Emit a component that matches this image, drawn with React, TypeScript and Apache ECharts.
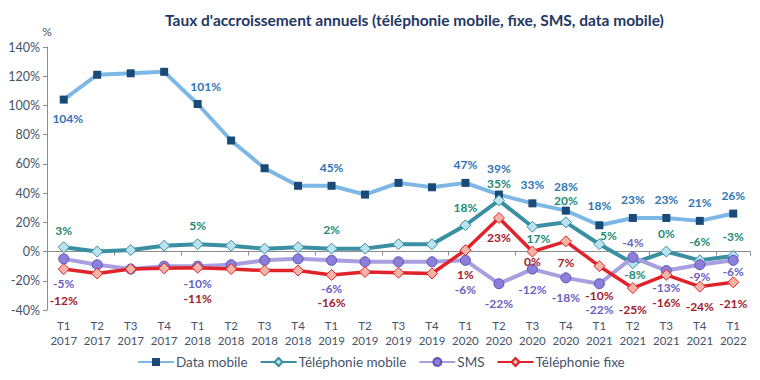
import React, { useEffect, useRef } from "react";
import * as echarts from "echarts";

const categories = [
  "T1\n2017", "T2\n2017", "T3\n2017", "T4\n2017",
  "T1\n2018", "T2\n2018", "T3\n2018", "T4\n2018",
  "T1\n2019", "T2\n2019", "T3\n2019", "T4\n2019",
  "T1\n2020", "T2\n2020", "T3\n2020", "T4\n2020",
  "T1\n2021", "T2\n2021", "T3\n2021", "T4\n2021",
  "T1\n2022",
];

const dataMobile = [104, 121, 122, 123, 101, 76, 57, 45, 45, 39, 47, 44, 47, 39, 33, 28, 18, 23, 23, 21, 26];
const telMobile = [3, 0, 1, 4, 5, 4, 2, 3, 2, 2, 5, 5, 18, 35, 17, 20, 5, -8, 0, -6, -3];
const sms = [-5, -9, -12, -10, -10, -9, -6, -5, -6, -7, -7, -7, -6, -22, -12, -18, -22, -4, -13, -9, -6];
const telFixe = [-12, -15, -12, -11.5, -11, -12, -13, -13, -16, -14, -14.5, -15, 1, 23, 0, 7, -10, -25, -16, -24, -21];

// label placement (index -> [dx, dy] relative to the point)
const dataMobileLabels: Record<number, [number, number]> = {
  0: [4, 19], 4: [8, -17], 8: [0, -18], 12: [0, -18], 13: [0, -26], 14: [0, -19],
  15: [0, -24], 16: [0, -20], 17: [0, -18], 18: [0, -18], 19: [0, -18], 20: [0, -18],
};
const telMobileLabels: Record<number, [number, number]> = {
  0: [0, -17], 4: [0, -19], 8: [0, -19], 12: [0, -18], 13: [0, -17], 14: [6, 12],
  15: [0, -22], 16: [9, -9], 17: [2, 11], 18: [0, -18], 19: [0, -19], 20: [0, -19],
};
const smsLabels: Record<number, [number, number]> = {
  0: [0, 25], 4: [0, 17], 8: [0, 28], 12: [0, 29], 13: [0, 20], 14: [0, 20],
  15: [0, 20], 16: [0, 26], 17: [0, -15], 18: [0, 17], 19: [0, 12], 20: [0, 11],
};
const telFixeLabels: Record<number, [number, number]> = {
  0: [0, 31], 4: [0, 31], 8: [0, 28], 12: [0, 24], 13: [0, 20], 14: [0, 10],
  15: [0, 21], 16: [0, 29], 17: [0, 21], 18: [0, 28], 19: [0, 20], 20: [0, 21],
};

const FONT = "Lato, 'Open Sans', sans-serif";
const AXIS_TEXT = "#44546A";

function buildData(values: number[], labels: Record<number, [number, number]>, color: string) {
  return values.map((v, i) => {
    const off = labels[i];
    if (!off) return { value: v, label: { show: false } };
    return {
      value: v,
      label: {
        show: true,
        position: "inside",
        offset: off,
        formatter: () => `${Math.round(v)}%`,
        color,
        fontWeight: "bold",
        fontSize: 12,
        lineHeight: 12,
        fontFamily: FONT,
      },
    };
  });
}

export default function App() {
  const ref = useRef<HTMLDivElement>(null);
  useEffect(() => {
    if (!ref.current) return;
    const chart = echarts.init(ref.current, null, { renderer: "svg" });
    chart.setOption({
      animation: false,
      backgroundColor: "#ffffff",
      title: {
        text: "Taux d'accroissement annuels (téléphonie mobile, fixe, SMS, data mobile)",
        left: 160,
        top: 7,
        textStyle: { color: "#1F3864", fontSize: 15.5, fontWeight: "bold", fontFamily: FONT },
      },
      legend: {
        bottom: 6,
        left: 132,
        itemWidth: 36,
        itemHeight: 10,
        itemGap: 12,
        textStyle: { color: AXIS_TEXT, fontSize: 13.5, fontFamily: FONT, padding: [0, 0, 0, -3] },
        data: ["Data mobile", "Téléphonie mobile", "SMS", "Téléphonie fixe"],
      },
      grid: { left: 47, right: 10, top: 47, bottom: 70, containLabel: false },
      xAxis: [
        {
          type: "category",
          data: categories,
          boundaryGap: true,
          axisLine: { show: true, onZero: true, lineStyle: { color: "#8C8C8C", width: 1 } },
          axisTick: { show: true, length: 4, lineStyle: { color: "#8C8C8C" } },
          axisLabel: { show: false },
          splitLine: { show: false },
        },
        {
          type: "category",
          data: categories,
          position: "bottom",
          boundaryGap: true,
          axisLine: { show: false, onZero: false },
          axisTick: { show: false },
          axisLabel: {
            show: true,
            interval: 0,
            color: AXIS_TEXT,
            fontSize: 11.5,
            fontFamily: FONT,
            lineHeight: 15,
            margin: 8,
          },
          splitLine: { show: false },
        },
      ],
      yAxis: {
        type: "value",
        min: -40,
        max: 140,
        interval: 20,
        name: "%",
        nameLocation: "end",
        nameGap: 10,
        nameTextStyle: { color: AXIS_TEXT, fontSize: 12, fontFamily: FONT, align: "center" },
        axisLine: { show: true, lineStyle: { color: "#8C8C8C" } },
        axisTick: { show: true, length: 4, lineStyle: { color: "#8C8C8C" } },
        axisLabel: { color: AXIS_TEXT, fontSize: 12.5, fontFamily: FONT, formatter: "{value}%", margin: 7 },
        splitLine: { show: false },
      },
      series: [
        {
          name: "Data mobile",
          type: "line",
          xAxisIndex: 0,
          data: buildData(dataMobile, dataMobileLabels, "#2E75B6"),
          lineStyle: { color: "#7DB7E6", width: 4 },
          itemStyle: { color: "#1A4A78", borderColor: "#1A4A78", borderWidth: 0 },
          symbol: "rect",
          symbolSize: 8,
          z: 2,
        },
        {
          name: "Téléphonie mobile",
          type: "line",
          xAxisIndex: 0,
          data: buildData(telMobile, telMobileLabels, "#1E8A74"),
          lineStyle: { color: "#3A8FA3", width: 4 },
          itemStyle: { color: "#B9E3EE", borderColor: "#3A8FA3", borderWidth: 1 },
          symbol: "diamond",
          symbolSize: 11,
          z: 3,
        },
        {
          name: "SMS",
          type: "line",
          xAxisIndex: 0,
          data: buildData(sms, smsLabels, "#6A5FC4"),
          lineStyle: { color: "#A79FDF", width: 4 },
          itemStyle: { color: "#8A80DA", borderColor: "#5E54B8", borderWidth: 1 },
          symbol: "circle",
          symbolSize: 10,
          z: 4,
        },
        {
          name: "Téléphonie fixe",
          type: "line",
          xAxisIndex: 0,
          data: buildData(telFixe, telFixeLabels, "#A3202B"),
          lineStyle: { color: "#E0232B", width: 3.5 },
          itemStyle: { color: "#F6B4A6", borderColor: "#E0232B", borderWidth: 1 },
          symbol: "diamond",
          symbolSize: 11,
          z: 5,
        },
      ],
    });
    return () => chart.dispose();
  }, []);
  return <div ref={ref} style={{ width: 760, height: 380, position: "absolute", left: 0, top: 0 }} />;
}
